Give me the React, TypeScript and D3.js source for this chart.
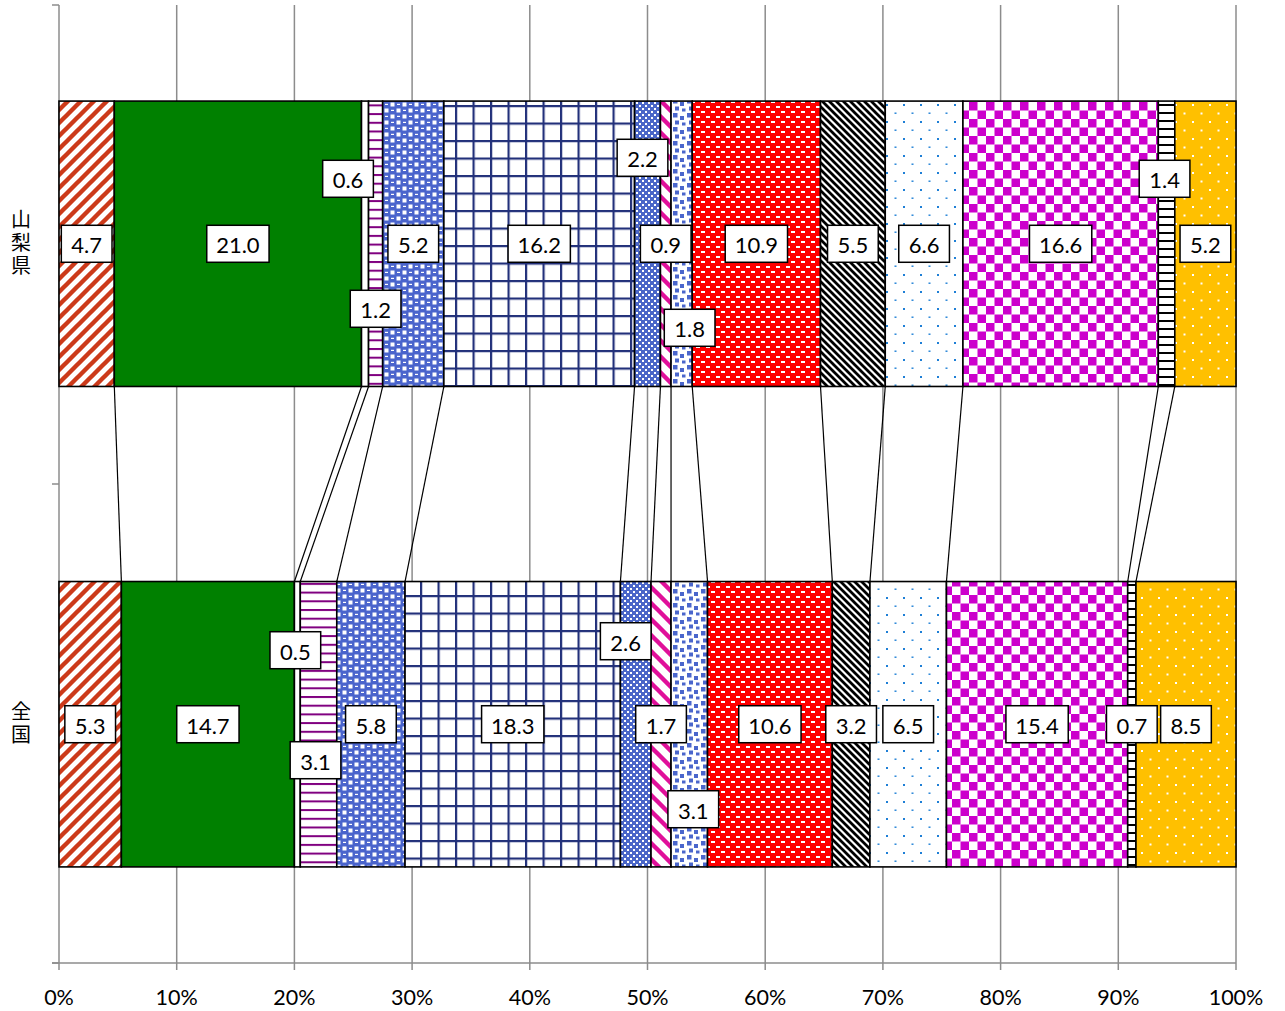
import React from "react";
import * as d3 from "d3";

const categories = ["山梨県", "全国"];
const seriesIndex = [0, 1, 2, 3, 4, 5, 6, 7, 8, 9, 10, 11, 12, 13, 14];
const yamanashiValues = [4.7, 21.0, 0.6, 1.2, 5.2, 16.2, 2.2, 0.9, 1.8, 10.9, 5.5, 6.6, 16.6, 1.4, 5.2];
const zenkokuValues = [5.3, 14.7, 0.5, 3.1, 5.8, 18.3, 2.6, 1.7, 3.1, 10.6, 3.2, 6.5, 15.4, 0.7, 8.5];
const xTicks = [0, 10, 20, 30, 40, 50, 60, 70, 80, 90, 100];

// label offsets (layout only) [dx, dy] relative to segment centre
const yamanashiLabelOffsets: [number, number][] = [
  [0, 0], [0, 0], [-17, -65], [0, 65], [0, 0], [0, 0], [-5, -86], [0, 0], [8, 84],
  [0, 0], [0, 0], [0, 0], [0, 0], [-2, -65], [0, 0],
];
const zenkokuLabelOffsets: [number, number][] = [
  [0, 0], [0, 0], [-2, -74], [-3, 36], [0, 0], [0, 0], [-10, -83], [0, 0], [4, 85],
  [0, 0], [0, 0], [0, 0], [0, 0], [0, 0], [0, 0],
];

const W = 1285;
const H = 1011;
const FONT = "Lato, 'Open Sans', 'Noto Sans', sans-serif";

function Patterns() {
  return (
    <defs>
      <pattern id="p0" patternUnits="userSpaceOnUse" width={13} height={13}>
        <rect width={13} height={13} fill="#fff" />
        <path d="M-3,3 L3,-3 M0,13 L13,0 M10,16 L16,10" stroke="#CC3A1A" strokeWidth={4.4} />
      </pattern>
      <pattern id="p1" patternUnits="userSpaceOnUse" width={10} height={10}>
        <rect width={10} height={10} fill="#008000" />
      </pattern>
      <pattern id="p2" patternUnits="userSpaceOnUse" width={10} height={10}>
        <rect width={10} height={10} fill="#fff" />
      </pattern>
      <pattern id="p3" patternUnits="userSpaceOnUse" width={10} height={8.7}>
        <rect width={10} height={8.7} fill="#fff" />
        <rect y={0} width={10} height={2} fill="#800080" />
      </pattern>
      <pattern id="p4" patternUnits="userSpaceOnUse" width={12} height={12}>
        <rect width={12} height={12} fill="#4A64CC" />
        <rect x={0.5} y={0.5} width={4} height={4} fill="#fff" />
        <rect x={6.5} y={6.5} width={4} height={4} fill="#fff" />
        <rect x={7} y={1.8} width={3} height={1.2} fill="#fff" />
        <rect x={1} y={7.8} width={3} height={1.2} fill="#fff" />
      </pattern>
      <pattern id="p5" patternUnits="userSpaceOnUse" width={17.5} height={17.5}>
        <rect width={17.5} height={17.5} fill="#fff" />
        <rect x={0} y={0} width={2.2} height={17.5} fill="#22307A" />
        <rect x={0} y={0} width={17.5} height={2.2} fill="#22307A" />
      </pattern>
      <pattern id="p6" patternUnits="userSpaceOnUse" width={6} height={6}>
        <rect width={6} height={6} fill="#4A66C8" />
        <rect x={0} y={0} width={2} height={2} fill="#fff" />
        <rect x={3} y={3} width={2} height={2} fill="#fff" />
      </pattern>
      <pattern id="p7" patternUnits="userSpaceOnUse" width={16} height={16}>
        <rect width={16} height={16} fill="#fff" />
        <path d="M-4,12 L4,20 M0,0 L16,16 M12,-4 L20,4" stroke="#E0109A" strokeWidth={4.4} />
      </pattern>
      <pattern id="p8" patternUnits="userSpaceOnUse" width={14} height={14}>
        <rect width={14} height={14} fill="#fff" />
        <rect x={1} y={1} width={4.5} height={4.5} fill="#4A66CC" />
        <rect x={8} y={4} width={4} height={4} fill="#4A66CC" />
        <rect x={3} y={8.5} width={4} height={4} fill="#4A66CC" />
        <rect x={10} y={10.5} width={3.5} height={3} fill="#4A66CC" />
      </pattern>
      <pattern id="p9" patternUnits="userSpaceOnUse" width={10} height={10}>
        <rect width={10} height={10} fill="#FF0000" />
        <rect x={1} y={1} width={4} height={2} fill="#fff" />
        <rect x={6} y={6} width={4} height={2} fill="#fff" />
      </pattern>
      <pattern id="p10" patternUnits="userSpaceOnUse" width={7} height={7}>
        <rect width={7} height={7} fill="#fff" />
        <path d="M-2,5 L2,9 M0,0 L7,7 M5,-2 L9,2" stroke="#000" strokeWidth={2.8} />
      </pattern>
      <pattern id="p11" patternUnits="userSpaceOnUse" width={17} height={17}>
        <rect width={17} height={17} fill="#fff" />
        <rect x={2} y={2} width={2} height={2} fill="#1E7FD6" />
        <rect x={10.5} y={10.5} width={2} height={1.4} fill="#1E7FD6" />
      </pattern>
      <pattern id="p12" patternUnits="userSpaceOnUse" width={17} height={17}>
        <rect width={17} height={17} fill="#fff" />
        <rect x={0} y={0} width={8.5} height={8.5} fill="#CC00CC" />
        <rect x={8.5} y={8.5} width={8.5} height={8.5} fill="#CC00CC" />
      </pattern>
      <pattern id="p13" patternUnits="userSpaceOnUse" width={10} height={8}>
        <rect width={10} height={8} fill="#fff" />
        <rect y={0} width={10} height={2} fill="#000" />
      </pattern>
      <pattern id="p14" patternUnits="userSpaceOnUse" width={17} height={17}>
        <rect width={17} height={17} fill="#FFC000" />
        <rect x={2} y={2} width={2} height={2} fill="#fff" />
        <rect x={10.5} y={10.5} width={2} height={2} fill="#fff" />
      </pattern>
    </defs>
  );
}

function labelWidth(t: string) {
  let w = 0;
  for (const c of t) w += c === "." ? 5.5 : 11.6;
  return w + 22;
}

export default function App() {
  const x = d3.scaleLinear().domain([0, 100]).range([59, 1236]);
  const y = d3.scaleBand<string>().domain(categories).range([5, 963]).paddingInner(0.406).paddingOuter(0.2);
  const bw = y.bandwidth();

  const rows = [
    { cat: categories[0], values: yamanashiValues, offsets: yamanashiLabelOffsets },
    { cat: categories[1], values: zenkokuValues, offsets: zenkokuLabelOffsets },
  ];
  const stacked = rows.map((r) => {
    let acc = 0;
    const segs = r.values.map((v, i) => {
      const s = { i, x0: acc, x1: acc + v, v };
      acc += v;
      return s;
    });
    return { ...r, segs };
  });

  const yTop = 5;
  const yBottom = 963;
  const top0 = y(categories[0])!;
  const top1 = y(categories[1])!;

  return (
    <svg width={W} height={H} style={{ position: "absolute", left: 0, top: 0, background: "#fff" }} fontFamily={FONT}>
      <Patterns />
      <rect width={W} height={H} fill="#fff" />
      {xTicks.map((t) => (
        <line key={"g" + t} x1={x(t)} x2={x(t)} y1={yTop} y2={yBottom + 7} stroke="#8C8C8C" strokeWidth={1.5} />
      ))}
      <line x1={52} x2={x(100)} y1={yBottom} y2={yBottom} stroke="#8C8C8C" strokeWidth={1.5} />
      {[yTop, (yTop + yBottom) / 2, yBottom].map((v, i) => (
        <line key={"yt" + i} x1={52} x2={59} y1={v} y2={v} stroke="#8C8C8C" strokeWidth={1.5} />
      ))}
      {seriesIndex.slice(0, 14).map((i) => (
        <line
          key={"sl" + i}
          x1={x(stacked[0].segs[i].x1)}
          y1={top0 + bw}
          x2={x(stacked[1].segs[i].x1)}
          y2={top1}
          stroke="#000"
          strokeWidth={1.2}
        />
      ))}
      {stacked.map((r) =>
        r.segs.map((s) => (
          <rect
            key={r.cat + s.i}
            x={x(s.x0)}
            y={y(r.cat)!}
            width={x(s.x1) - x(s.x0)}
            height={bw}
            fill={`url(#p${s.i})`}
            stroke="#000"
            strokeWidth={1.6}
          />
        ))
      )}
      {stacked.map((r) =>
        r.segs.map((s) => {
          const t = s.v.toFixed(1);
          const cx = (x(s.x0) + x(s.x1)) / 2 + r.offsets[s.i][0];
          const cy = y(r.cat)! + bw / 2 + r.offsets[s.i][1];
          const w = labelWidth(t);
          const h = 37;
          return (
            <g key={"l" + r.cat + s.i}>
              <rect x={cx - w / 2} y={cy - h / 2} width={w} height={h} fill="#fff" stroke="#000" strokeWidth={1.5} />
              <text x={cx} y={cy + 1} textAnchor="middle" dominantBaseline="central" fontSize={22} fill="#000">
                {t}
              </text>
            </g>
          );
        })
      )}
      {xTicks.map((t) => (
        <text key={"xl" + t} x={x(t)} y={997} textAnchor="middle" dominantBaseline="central" fontSize={21.5} fill="#000">
          {t + "%"}
        </text>
      ))}
      {categories.map((c) => {
        const cy = y(c)! + bw / 2;
        return (
          <text
            key={"c" + c}
            x={21}
            y={cy}
            fontSize={20}
            textAnchor="middle"
            fill="#000"
            letterSpacing={3}
            fontFamily="'Noto Sans CJK JP', sans-serif"
            style={{ writingMode: "vertical-rl", textOrientation: "upright" } as React.CSSProperties}
          >
            {c}
          </text>
        );
      })}
    </svg>
  );
}
